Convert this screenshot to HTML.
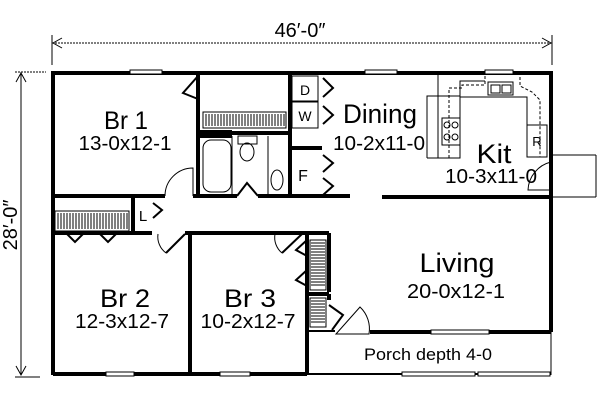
<!DOCTYPE html>
<html><head><style>body{margin:0;background:#fff}svg{display:block}text{font-family:"Liberation Sans",sans-serif;fill:#000}</style></head><body>
<svg width="600" height="400" viewBox="0 0 600 400" xmlns="http://www.w3.org/2000/svg">
<!-- dimensions -->
<g stroke="#000" stroke-width="1" fill="none">
<line x1="52" y1="43" x2="552" y2="43" stroke-dasharray="2,1"/>
<line x1="52" y1="35" x2="52" y2="65"/><line x1="552" y1="35" x2="552" y2="65"/>
<polyline points="62,38 53,43 62,48"/><polyline points="542,38 551,43 542,48"/>
<line x1="21" y1="72" x2="21" y2="375"/>
<line x1="15" y1="72" x2="46" y2="72" stroke-dasharray="2,1"/><line x1="15" y1="377" x2="40" y2="377"/>
<polyline points="16,82 21,73 26,82"/><polyline points="16,366 21,375 26,366"/>
</g>
<text x="300" y="37" font-size="20" text-anchor="middle">46′-0″</text>
<text x="0" y="0" font-size="20" text-anchor="middle" transform="translate(17,225) rotate(-90)">28′-0″</text>
<!-- walls -->
<g stroke="#000" stroke-width="4" fill="none">
<polyline points="53,375 53,73 551,73 551,332"/>
<line x1="53" y1="374" x2="307" y2="374"/>
<line x1="370" y1="332" x2="551" y2="332"/>
<line x1="198" y1="73" x2="198" y2="196"/>
<line x1="290" y1="73" x2="290" y2="196"/>
<line x1="53" y1="196" x2="165" y2="196"/>
<line x1="193" y1="196" x2="237" y2="196"/>
<line x1="258" y1="196" x2="350" y2="196"/>
<line x1="382" y1="197" x2="551" y2="197"/>
<line x1="53" y1="233" x2="152" y2="233"/>
<line x1="133" y1="197" x2="133" y2="233"/>
<line x1="185" y1="233" x2="329" y2="233"/>
<line x1="190" y1="233" x2="190" y2="375"/>
<line x1="307" y1="233" x2="307" y2="375"/>
<line x1="329" y1="233" x2="329" y2="292"/>
<line x1="307" y1="294" x2="329" y2="294"/>
<line x1="329" y1="294" x2="329" y2="300"/>
<line x1="307" y1="331" x2="335" y2="331" stroke-width="2"/>
<line x1="198" y1="133" x2="290" y2="133"/>
<line x1="290" y1="148" x2="322" y2="148"/>
</g>
<rect x="198" y="130" width="34" height="8" fill="#000"/>
<!-- porch -->
<g stroke="#000" stroke-width="1" fill="none">
<line x1="307" y1="374" x2="551" y2="374" stroke-width="2"/>
<line x1="551" y1="332" x2="551" y2="375"/>
<line x1="552" y1="155" x2="596" y2="155"/><line x1="596" y1="155" x2="596" y2="197"/><line x1="551" y1="197" x2="596" y2="197"/>
</g>
<!-- windows -->
<g fill="#fff" stroke="#000" stroke-width="1">
<rect x="130" y="70" width="32" height="4"/><rect x="365" y="70" width="32" height="4"/><rect x="485" y="70" width="28" height="4"/>
<rect x="106" y="372" width="28" height="4"/><rect x="220" y="372" width="30" height="4"/>
<rect x="431" y="330" width="58" height="4"/><rect x="402" y="372" width="73" height="4"/><rect x="478" y="372" width="72" height="4"/>
</g>
<!-- closet rods -->
<g stroke="#000" stroke-width="1">
<rect x="55" y="211" width="74" height="20" fill="none"/>
<path d="M58 213v16M61 213v16M64 213v16M67 213v16M70 213v16M73 213v16M76 213v16M79 213v16M82 213v16M85 213v16M88 213v16M91 213v16M94 213v16M97 213v16M100 213v16M103 213v16M106 213v16M109 213v16M112 213v16M115 213v16M118 213v16M121 213v16M124 213v16M127 213v16"/>
<rect x="203" y="112" width="83" height="16" fill="none"/>
<path d="M206 114v12M209 114v12M212 114v12M215 114v12M218 114v12M221 114v12M224 114v12M227 114v12M230 114v12M233 114v12M236 114v12M239 114v12M242 114v12M245 114v12M248 114v12M251 114v12M254 114v12M257 114v12M260 114v12M263 114v12M266 114v12M269 114v12M272 114v12M275 114v12M278 114v12M281 114v12M284 114v12"/>
<rect x="310" y="240" width="16" height="50" fill="none"/>
<path d="M311 243h14M311 246h14M311 249h14M311 252h14M311 255h14M311 258h14M311 261h14M311 264h14M311 267h14M311 270h14M311 273h14M311 276h14M311 279h14M311 282h14M311 285h14"/>
<rect x="310" y="298" width="16" height="29" fill="none"/>
<path d="M311 301h14M311 304h14M311 307h14M311 310h14M311 313h14M311 316h14M311 319h14M311 322h14"/>
</g>
<!-- bath fixtures -->
<g stroke="#000" stroke-width="1" fill="none">
<rect x="203" y="140" width="28" height="52" rx="8"/>
<line x1="232" y1="136" x2="232" y2="194"/><line x1="268" y1="136" x2="268" y2="194"/>
<rect x="238" y="136" width="19" height="8"/><ellipse cx="247" cy="152" rx="7" ry="9"/>
<ellipse cx="277" cy="180" rx="6" ry="10"/>
<rect x="292" y="76" width="26" height="25"/><rect x="292" y="102" width="26" height="26"/>
</g>
<text x="305" y="95" font-size="14" text-anchor="middle">D</text>
<text x="305" y="121" font-size="14" text-anchor="middle">W</text>
<text x="303" y="181" font-size="16" text-anchor="middle">F</text>
<text x="143" y="221" font-size="15" text-anchor="middle">L</text>
<!-- doors -->
<g stroke="#000" stroke-width="2" fill="none">
<polyline points="198,76 183,93 198,99"/>
<polyline points="323,78 333,88 323,97"/><polyline points="323,106 333,115 323,124"/>
<polyline points="323,155 333,163 323,172"/><polyline points="323,178 333,186 323,195"/>
<polyline points="153,203 162,210 153,218"/>
<polyline points="67,234 75,242 83,234"/><polyline points="100,234 108,242 116,234"/>
<line x1="185" y1="234" x2="166" y2="253"/>
<line x1="302" y1="234" x2="282" y2="253"/>
<polyline points="307,240 296,250 307,256"/><polyline points="307,270 296,280 307,286"/>
<polyline points="329,305 343,315 332,330"/>
<polyline points="237,196 247,183 258,196"/>
</g>
<g stroke="#000" stroke-width="1" fill="none">
<path d="M193 196 V168 A28 28 0 0 0 165 196"/>
<path d="M166 253 A20 20 0 0 1 158 234"/>
<path d="M282 253 A20 20 0 0 1 275 234"/>
<path d="M336 334 L360 307 A30 30 0 0 1 369 334 Z"/>
<path d="M551 162 A30 30 0 0 0 528 190 L551 190"/>
</g>
<!-- kitchen -->
<g stroke="#000" stroke-width="1" fill="none">
<line x1="438" y1="75" x2="438" y2="158"/>
<polyline points="427,158 427,96 460,96 460,81 485,81"/>
<polyline points="427,158 460,158 460,96"/>
<polyline points="460,98 460,97 527,97 527,127"/>
<rect x="527" y="125" width="20" height="32"/>
<polyline points="449,158 449,88 462,88 462,85 485,85 485,75" stroke-dasharray="3,2"/>
<polyline points="520,77 520,86 532,92 540,100 540,157" stroke-dasharray="3,2"/>
<rect x="488" y="82" width="25" height="13"/><rect x="491" y="85" width="9" height="8"/><rect x="502" y="85" width="9" height="8"/>
<rect x="442" y="118" width="18" height="27"/>
<circle cx="447" cy="125" r="3"/><circle cx="455" cy="125" r="3"/><circle cx="447" cy="137" r="3"/><circle cx="455" cy="137" r="3"/>
</g>
<text x="537" y="146" font-size="13" text-anchor="middle">R</text>
<!-- labels -->
<g text-anchor="middle" lengthAdjust="spacingAndGlyphs">
<text x="126" y="129" font-size="25" textLength="44" lengthAdjust="spacingAndGlyphs">Br 1</text>
<text x="125" y="150" font-size="20" textLength="93" lengthAdjust="spacingAndGlyphs">13-0x12-1</text>
<text x="380" y="123" font-size="27" textLength="74" lengthAdjust="spacingAndGlyphs">Dining</text>
<text x="379" y="150" font-size="20" textLength="92" lengthAdjust="spacingAndGlyphs">10-2x11-0</text>
<text x="494" y="163" font-size="27" textLength="35" lengthAdjust="spacingAndGlyphs">Kit</text>
<text x="491" y="183" font-size="20" textLength="92" lengthAdjust="spacingAndGlyphs">10-3x11-0</text>
<text x="457" y="272" font-size="27" textLength="75" lengthAdjust="spacingAndGlyphs">Living</text>
<text x="456" y="298" font-size="20" textLength="98" lengthAdjust="spacingAndGlyphs">20-0x12-1</text>
<text x="125" y="307" font-size="25" textLength="50" lengthAdjust="spacingAndGlyphs">Br 2</text>
<text x="122" y="328" font-size="20" textLength="94" lengthAdjust="spacingAndGlyphs">12-3x12-7</text>
<text x="250" y="307" font-size="25" textLength="52" lengthAdjust="spacingAndGlyphs">Br 3</text>
<text x="248" y="328" font-size="20" textLength="95" lengthAdjust="spacingAndGlyphs">10-2x12-7</text>
<text x="428" y="360" font-size="17" textLength="128" lengthAdjust="spacingAndGlyphs">Porch depth 4-0</text>
</g>
</svg>
</body></html>
